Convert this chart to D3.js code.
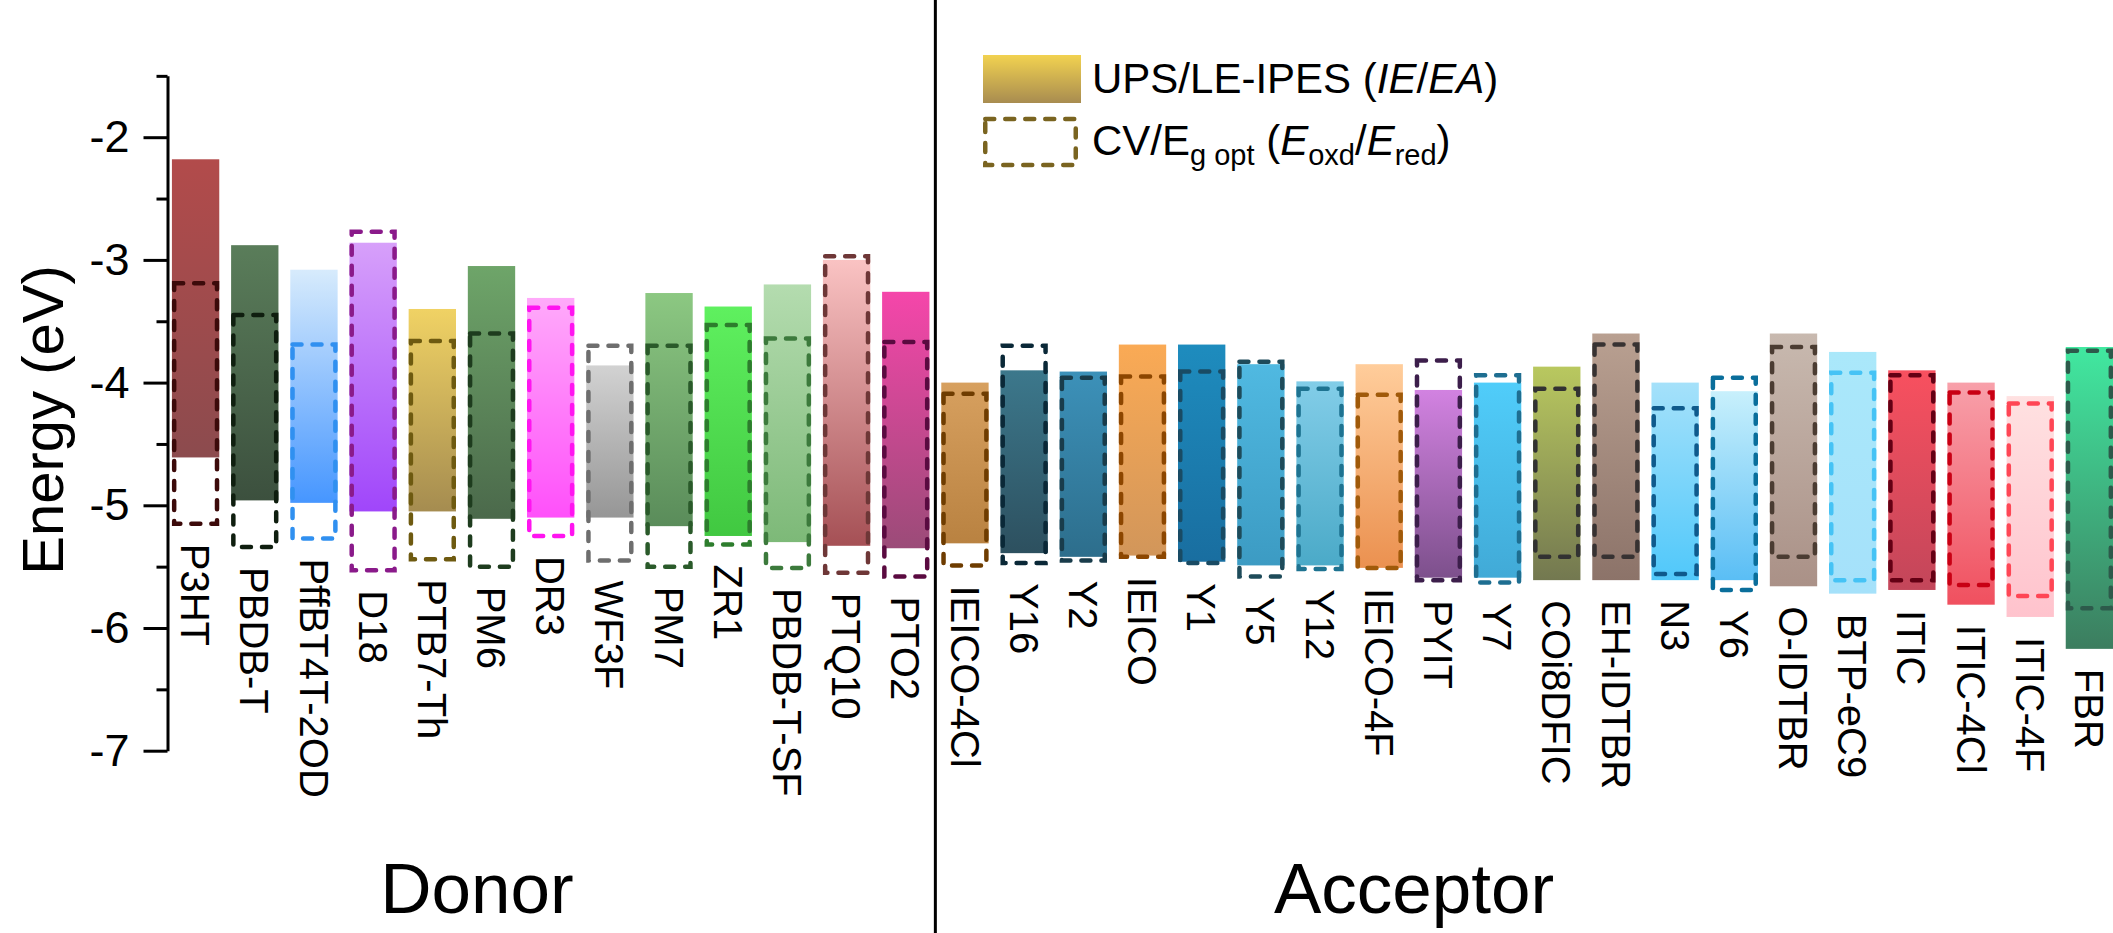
<!DOCTYPE html>
<html>
<head>
<meta charset="utf-8">
<script src="https://cdn.jsdelivr.net/npm/d3@7"></script>
<style>
  body { margin: 0; background: #fff; }
  svg { display: block; }
  text { font-family: Arial, "Liberation Sans", sans-serif; fill: #000; }
</style>
</head>
<body>
<svg id="chart" width="2113" height="933"></svg>
<script>
// Materials, left group = donors, right group = acceptors
const donors = ["P3HT", "PBDB-T", "PffBT4T-2OD", "D18", "PTB7-Th", "PM6", "DR3", "WF3F",
  "PM7", "ZR1", "PBDB-T-SF", "PTQ10", "PTO2"];
const acceptors = ["IEICO-4Cl", "Y16", "Y2", "IEICO", "Y1", "Y5", "Y12", "IEICO-4F", "PYIT",
  "Y7", "COi8DFIC", "EH-IDTBR", "N3", "Y6", "O-IDTBR", "BTP-eC9", "ITIC", "ITIC-4Cl", "ITIC-4F", "FBR"];
const materials = donors.concat(acceptors);

// UPS/LE-IPES: electron affinity (upper edge) and ionization energy (lower edge), eV
const upsEA = [-2.18, -2.88, -3.08, -2.86, -3.40, -3.05, -3.31, -3.86, -3.27, -3.38, -3.20, -3.00, -3.26,
  -4.00, -3.90, -3.91, -3.69, -3.69, -3.85, -3.99, -3.85, -4.06, -4.00, -3.87, -3.60, -4.00, -4.07,
  -3.60, -3.75, -3.90, -4.00, -4.11, -3.71];
const upsIE = [-4.61, -4.96, -4.98, -5.05, -5.05, -5.11, -5.10, -5.10, -5.17, -5.25, -5.30, -5.33, -5.35,
  -5.31, -5.39, -5.42, -5.41, -5.46, -5.49, -5.49, -5.51, -5.59, -5.59, -5.61, -5.61, -5.61, -5.61,
  -5.66, -5.72, -5.69, -5.81, -5.91, -6.17];

// CV / optical gap: reduction (upper edge) and oxidation (lower edge) levels, eV
const cvRed = [-3.19, -3.45, -3.69, -2.77, -3.66, -3.60, -3.39, -3.70, -3.70, -3.53, -3.64, -2.97, -3.67,
  -4.09, -3.70, -3.96, -3.95, -3.91, -3.83, -4.05, -4.10, -3.82, -3.94, -4.05, -3.69, -4.21, -3.96,
  -3.71, -3.92, -3.94, -4.08, -4.17, -3.74];
const cvOxd = [-5.15, -5.34, -5.27, -5.53, -5.44, -5.50, -5.25, -5.45, -5.50, -5.32, -5.51, -5.55, -5.58,
  -5.49, -5.47, -5.45, -5.42, -5.47, -5.58, -5.52, -5.51, -5.61, -5.63, -5.42, -5.42, -5.56, -5.69,
  -5.42, -5.61, -5.61, -5.65, -5.74, -5.84];

// Bar gradient colours (top -> bottom) and dashed outline colours
const fillTop = ["#b24b4b", "#5a7d5a", "#d7ebfc", "#d7a0fa", "#f0d264", "#6ea569", "#ffaafa", "#d2d2d2",
  "#8cc882", "#5ff05f", "#b4dcaf", "#fac3c3", "#f546aa",
  "#d7a05f", "#3c788c", "#3c91b9", "#faaa55", "#1e8cbe", "#50b9e1", "#82cde8", "#ffcd9b", "#d282e1",
  "#50cdfa", "#b9c85f", "#b9a091", "#a5e1fa", "#c8f0fc", "#c8b9af", "#aae8fa", "#f8505f", "#f8a0aa",
  "#ffe1e1", "#41e8a0"];
const fillBottom = ["#8c4b4e", "#3c503e", "#4696ff", "#a046fa", "#a58c50", "#4b694b", "#ff50fa", "#969696",
  "#5a8c5a", "#41c841", "#7db978", "#a55055", "#9b4b78",
  "#b98241", "#2d505f", "#2d6e8c", "#d2965a", "#196ea0", "#3c9bc3", "#4baac8", "#eb9150", "#7d508c",
  "#41aad7", "#737850", "#8c7369", "#50c8fa", "#5abef5", "#aa9187", "#a5e1fa", "#c3465a", "#f0505f",
  "#ffc3cd", "#3c7d5f"];
const dashColor = ["#3c0a0a", "#0f1e0f", "#3090f0", "#8a1a8a", "#6e5a10", "#1e3c1e", "#ff14f0", "#6e6e6e",
  "#2a5a2a", "#2d7d2d", "#3c7a3c", "#6e3737", "#5a0a40",
  "#6e3c00", "#0a2837", "#193c4b", "#8c4600", "#194b64", "#1e4b5a", "#1e7391", "#a05a0a", "#3c1e4b",
  "#1e6e91", "#323232", "#373232", "#0f5a8c", "#0a6e9b", "#4b3c32", "#46c3f5", "#640014", "#c80014",
  "#ff4655", "#2d5a4b"];

const majorTicks = [-7, -6, -5, -4, -3, -2];
const minorTicks = [-6.5, -5.5, -4.5, -3.5, -2.5, -1.5];

const svg = d3.select("#chart");
const W = 2113, H = 933;

const y = d3.scaleLinear().domain([-7, -1.5]).range([750.7, 75.85]);
const x = d3.scaleBand().domain(materials).range([166, 2119]).paddingInner(0.2).paddingOuter(0.1);
const bw = x.bandwidth();
const axisX = 167.5;

// gradients
const defs = svg.append("defs");
materials.forEach((m, i) => {
  const g = defs.append("linearGradient").attr("id", "grad" + i)
    .attr("x1", 0).attr("y1", 0).attr("x2", 0).attr("y2", 1);
  g.append("stop").attr("offset", "0%").attr("stop-color", fillTop[i]);
  g.append("stop").attr("offset", "100%").attr("stop-color", fillBottom[i]);
});
const lg = defs.append("linearGradient").attr("id", "gradLegend")
  .attr("x1", 0).attr("y1", 0).attr("x2", 0).attr("y2", 1);
lg.append("stop").attr("offset", "0%").attr("stop-color", "#f2d250");
lg.append("stop").attr("offset", "100%").attr("stop-color", "#a88c50");

const rows = materials.map((m, i) => ({
  name: m, i, ea: upsEA[i], ie: upsIE[i], red: cvRed[i], oxd: cvOxd[i]
}));

// UPS/LE-IPES bars
svg.append("g").selectAll("rect").data(rows).join("rect")
  .attr("x", d => x(d.name))
  .attr("y", d => y(d.ea))
  .attr("width", bw)
  .attr("height", d => y(d.ie) - y(d.ea))
  .attr("fill", d => "url(#grad" + d.i + ")");

// CV dashed boxes
const sw = 4.5;
svg.append("g").selectAll("rect").data(rows).join("rect")
  .attr("x", d => x(d.name) + sw / 2)
  .attr("y", d => y(d.red))
  .attr("width", bw - sw)
  .attr("height", d => y(d.oxd) - y(d.red))
  .attr("fill", "none")
  .attr("stroke", d => dashColor[d.i])
  .attr("stroke-width", sw)
  .attr("stroke-dasharray", "9 11")
  .attr("stroke-linecap", "round");

// material labels, rotated, just under the lowest level
svg.append("g").selectAll("text").data(rows).join("text")
  .attr("transform", d => `translate(${x(d.name) + bw / 2},${y(Math.min(d.ie, d.oxd)) + 20}) rotate(90)`)
  .attr("dy", "0.36em")
  .attr("font-size", 40)
  .text(d => d.name);

// y axis
const yAxis = svg.append("g").attr("transform", `translate(${axisX},0)`)
  .call(d3.axisLeft(y).tickValues(majorTicks).tickSize(24).tickSizeOuter(0).tickPadding(14)
    .tickFormat(d => String(d)));
yAxis.selectAll("path, line").attr("stroke", "#000").attr("stroke-width", 3);
yAxis.selectAll("text").attr("font-size", 45).attr("font-family", "Arial, 'Liberation Sans', sans-serif").attr("fill", "#000");

const yMinor = svg.append("g").attr("transform", `translate(${axisX},0)`)
  .call(d3.axisLeft(y).tickValues(minorTicks).tickSize(11).tickFormat(""));
yMinor.select(".domain").remove();
yMinor.selectAll("line").attr("stroke", "#000").attr("stroke-width", 3);

svg.append("text")
  .attr("transform", "translate(42,420) rotate(-90)")
  .attr("text-anchor", "middle")
  .attr("dy", "0.36em")
  .attr("font-size", 58)
  .text("Energy (eV)");

// divider between donors and acceptors
const iLastDonor = donors.length - 1;
const divX = (x(materials[iLastDonor]) + bw + x(materials[iLastDonor + 1])) / 2;
svg.append("line").attr("x1", divX).attr("x2", divX).attr("y1", 0).attr("y2", H)
  .attr("stroke", "#000").attr("stroke-width", 3);

// group titles
svg.append("text").attr("x", 477).attr("y", 913).attr("text-anchor", "middle")
  .attr("font-size", 71).text("Donor");
svg.append("text").attr("x", 1414).attr("y", 913).attr("text-anchor", "middle")
  .attr("font-size", 71).text("Acceptor");

// legend
const leg = svg.append("g");
leg.append("rect").attr("x", 983).attr("y", 55).attr("width", 98).attr("height", 48)
  .attr("fill", "url(#gradLegend)");
leg.append("rect").attr("x", 983 + sw / 2).attr("y", 119).attr("width", 95 - sw).attr("height", 46)
  .attr("fill", "none").attr("stroke", "#7a6420").attr("stroke-width", sw)
  .attr("stroke-dasharray", "9 11").attr("stroke-linecap", "round");

const t1 = leg.append("text").attr("x", 1092).attr("y", 93).attr("font-size", 42);
t1.append("tspan").text("UPS/LE-IPES (");
t1.append("tspan").attr("font-style", "italic").text("IE");
t1.append("tspan").text("/");
t1.append("tspan").attr("font-style", "italic").text("EA");
t1.append("tspan").text(")");

const t2 = leg.append("text").attr("x", 1092).attr("y", 155).attr("font-size", 42);
t2.append("tspan").text("CV/E");
t2.append("tspan").attr("font-size", 29).attr("dy", 10).text("g opt");
t2.append("tspan").attr("dy", -10).text(" (");
t2.append("tspan").attr("font-style", "italic").text("E");
t2.append("tspan").attr("font-size", 29).attr("dy", 10).text("oxd");
t2.append("tspan").attr("dy", -10).text("/");
t2.append("tspan").attr("font-style", "italic").text("E");
t2.append("tspan").attr("font-size", 29).attr("dy", 10).text("red");
t2.append("tspan").attr("dy", -10).text(")");
</script>
</body>
</html>
